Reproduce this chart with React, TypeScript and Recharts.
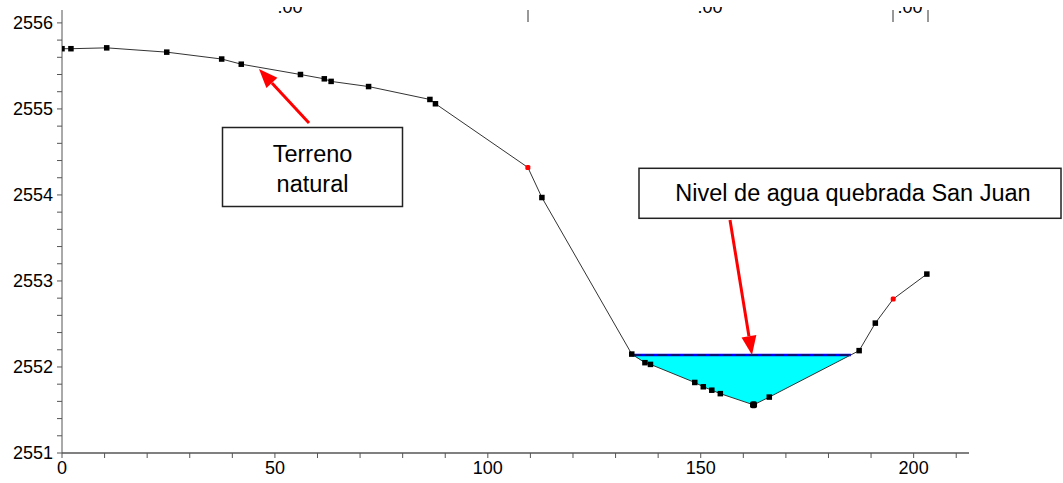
import { Area, ComposedChart, Line, XAxis, YAxis } from 'recharts';

const FONT = 'Arial, "Liberation Sans", sans-serif';

// terrain profile: station (m) and elevation (m)
const stations = [
  0, 2.1, 10.5, 24.6, 37.5, 42.1, 56.0, 61.6, 63.2, 72.0, 86.4, 87.7, 109.4, 112.7,
  133.8, 136.9, 138.2, 148.6, 150.6, 152.6, 154.6, 162.4, 166.1, 187.2, 191.0, 195.2, 203.1,
];
const elevations = [
  2555.7, 2555.7, 2555.71, 2555.66, 2555.58, 2555.52, 2555.4, 2555.35, 2555.32, 2555.26,
  2555.11, 2555.06, 2554.32, 2553.97, 2552.15, 2552.05, 2552.03, 2551.82, 2551.77, 2551.73,
  2551.69, 2551.56, 2551.65, 2552.19, 2552.51, 2552.79, 2553.08,
];
const redPoints = [12, 25];
const lowestPoint = 21;

// water level of the creek
const waterLevel = 2552.14;
const waterStart = 133.8;
const waterEnd = 185.3;

const xTicks = [0, 10, 20, 30, 40, 50, 60, 70, 80, 90, 100, 110, 120, 130, 140, 150, 160, 170, 180, 190, 200, 210];
const yTicks = [
  2551, 2551.2, 2551.4, 2551.6, 2551.8, 2552, 2552.2, 2552.4, 2552.6, 2552.8, 2553, 2553.2,
  2553.4, 2553.6, 2553.8, 2554, 2554.2, 2554.4, 2554.6, 2554.8, 2555, 2555.2, 2555.4, 2555.6,
  2555.8, 2556,
];

const terrain = stations.map((x, i) => ({ x, y: elevations[i] }));
const water = [
  ...terrain
    .filter((p) => p.x >= waterStart && p.x <= waterEnd)
    .map((p) => ({ x: p.x, range: [Math.min(p.y, waterLevel), waterLevel] })),
  { x: waterEnd, range: [waterLevel, waterLevel] },
];
const waterLine = [
  { x: waterStart, y: waterLevel },
  { x: waterEnd, y: waterLevel },
];

const TerrainDot = (props: any) => {
  const { cx, cy, index } = props;
  if (cx == null || cy == null) return null;
  if (redPoints.includes(index)) {
    return <rect x={cx - 2.5} y={cy - 2.5} width={5} height={5} rx={1.5} fill='#ff0000' />;
  }
  if (index === lowestPoint) {
    return <rect x={cx - 3.5} y={cy - 3.5} width={7} height={7} rx={2} fill='#000' />;
  }
  return <rect x={cx - 2.75} y={cy - 2.75} width={5.5} height={5.5} fill='#000' />;
};

const Arrow = ({ x1, y1, x2, y2 }: { x1: number; y1: number; x2: number; y2: number }) => {
  const len = Math.hypot(x2 - x1, y2 - y1);
  const ux = (x2 - x1) / len;
  const uy = (y2 - y1) / len;
  const hl = 19;
  const hw = 7.5;
  const bx = x2 - ux * hl;
  const by = y2 - uy * hl;
  return (
    <g>
      <line x1={x1} y1={y1} x2={bx} y2={by} stroke='#ff0000' strokeWidth={3} />
      <polygon
        points={`${x2},${y2} ${bx - uy * hw},${by + ux * hw} ${bx + uy * hw},${by - ux * hw}`}
        fill='#ff0000'
      />
    </g>
  );
};

const Annotations = () => (
  <svg
    width={1063}
    height={483}
    style={{ position: 'absolute', left: 0, top: 0, pointerEvents: 'none' }}
    fontFamily={FONT}
  >
    <defs>
      <clipPath id='topcut'>
        <rect x={0} y={7} width={1063} height={10} />
      </clipPath>
    </defs>
    <g clipPath='url(#topcut)' fontSize={18} fill='#000' textAnchor='middle'>
      <text x={290} y={12.7}>.00</text>
      <text x={710} y={12.7}>.00</text>
      <text x={910} y={12.7}>.00</text>
    </g>
    <g stroke='#333' strokeWidth={1}>
      <line x1={528} y1={10} x2={528} y2={22} />
      <line x1={893} y1={10} x2={893} y2={22} />
      <line x1={928} y1={10} x2={928} y2={22} />
    </g>

    <rect x={222.5} y={127.5} width={180} height={79} fill='#fff' stroke='#222' strokeWidth={1.5} />
    <text x={312.5} y={161.5} fontSize={23.5} textAnchor='middle' fill='#000'>Terreno</text>
    <text x={312.5} y={191.5} fontSize={23.5} textAnchor='middle' fill='#000'>natural</text>
    <Arrow x1={309} y1={123} x2={259} y2={69} />

    <rect x={639} y={168.3} width={422} height={50} fill='#fff' stroke='#222' strokeWidth={1.5} />
    <text x={853} y={201} fontSize={23.5} textAnchor='middle' fill='#000'>
      Nivel de agua quebrada San Juan
    </text>
    <Arrow x1={730} y1={220} x2={752} y2={355} />
  </svg>
);

export default function App() {
  return (
    <div style={{ position: 'absolute', left: 0, top: 0, width: 1063, height: 483, background: '#fff' }}>
      <ComposedChart
        width={1063}
        height={483}
        margin={{ top: 10, right: 94, bottom: 0, left: 0 }}
        style={{ fontFamily: FONT }}
      >
        <XAxis
          dataKey='x'
          type='number'
          domain={[0, 213]}
          ticks={xTicks}
          interval={0}
          tickFormatter={(v: number) => (v % 50 === 0 ? String(v) : '')}
          tick={{ fontSize: 18, fill: '#000', fontFamily: FONT }}
          tickSize={5}
          tickMargin={3}
          height={30}
          axisLine={{ stroke: '#808080', strokeWidth: 2 }}
          tickLine={{ stroke: '#555' }}
          allowDataOverflow
        />
        <YAxis
          type='number'
          domain={[2551, 2556.15]}
          ticks={yTicks}
          interval={0}
          tickFormatter={(v: number) => (Math.abs(v - Math.round(v)) < 1e-6 ? String(Math.round(v)) : '')}
          tick={{ fontSize: 18, fill: '#000', fontFamily: FONT }}
          tickSize={5}
          tickMargin={4}
          width={62}
          axisLine={{ stroke: '#555' }}
          tickLine={{ stroke: '#555' }}
          allowDataOverflow
        />
        <Area
          data={water}
          dataKey='range'
          type='linear'
          fill='#00ffff'
          fillOpacity={1}
          stroke='none'
          isAnimationActive={false}
          activeDot={false}
        />
        <Line
          data={waterLine}
          dataKey='y'
          type='linear'
          stroke='#0000ff'
          strokeWidth={2.5}
          dot={false}
          activeDot={false}
          isAnimationActive={false}
        />
        <Line
          data={waterLine}
          dataKey='y'
          type='linear'
          stroke='#15154a'
          strokeWidth={1.5}
          strokeDasharray='9 4'
          dot={false}
          activeDot={false}
          isAnimationActive={false}
        />
        <Line
          data={terrain}
          dataKey='y'
          type='linear'
          stroke='#333'
          strokeWidth={1}
          dot={<TerrainDot />}
          activeDot={false}
          isAnimationActive={false}
        />
      </ComposedChart>
      <Annotations />
    </div>
  );
}
